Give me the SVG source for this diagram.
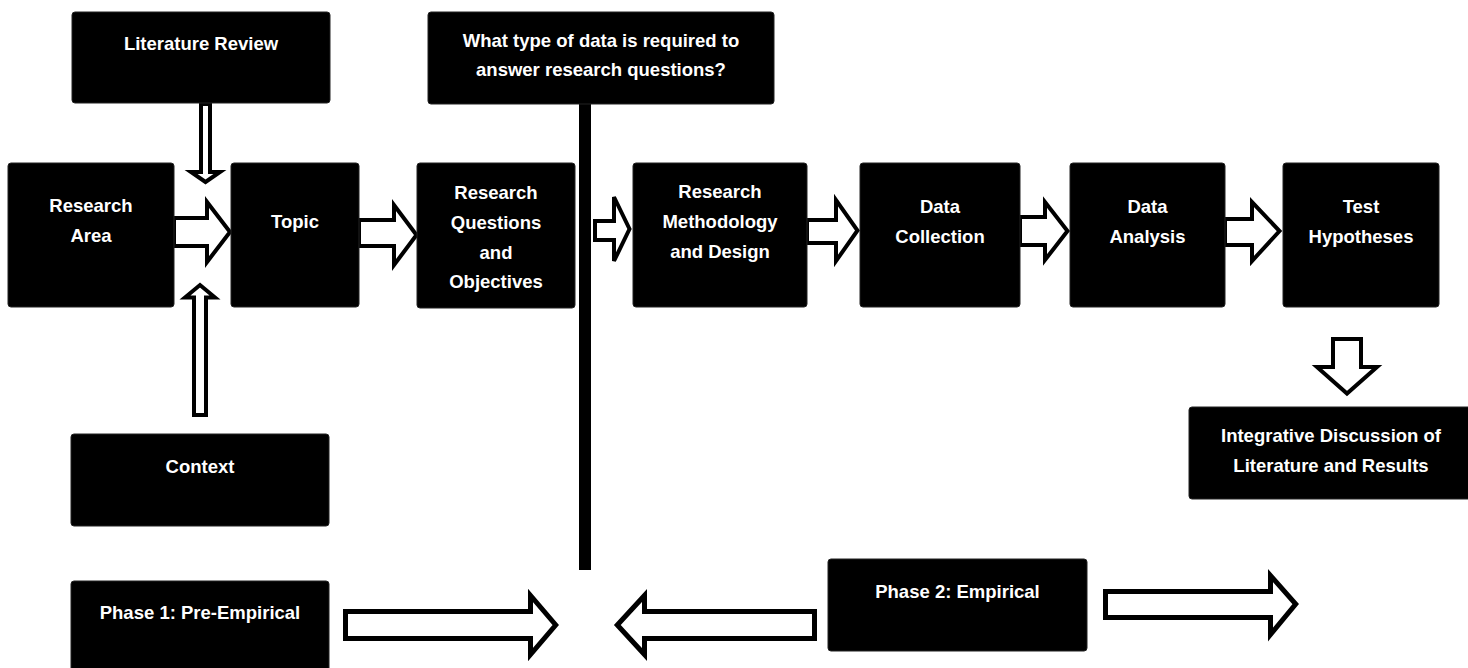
<svg xmlns="http://www.w3.org/2000/svg" width="1468" height="668" viewBox="0 0 1468 668">
<style>
.box{fill:#000;stroke:#222;stroke-width:1}
.t{fill:#fff;font-family:"Liberation Sans",Arial,sans-serif;font-weight:bold;font-size:18.5px;text-anchor:middle}
.ar{fill:#fff;stroke:#000;stroke-width:4;stroke-linejoin:miter}
.arb{fill:#fff;stroke:#000;stroke-width:5;stroke-linejoin:miter}
</style>
<rect width="1468" height="668" fill="#fff"/>
<g id="connectors">
<rect x="579" y="104" width="12" height="466" fill="#000"/>
<polygon class="ar" points="201,104 201,172 191,172 205.5,182 220,172 210,172 210,104"/>
<polygon class="ar" points="194,415 194,297.5 185,297.5 200,285 215,297.5 206,297.5 206,415"/>
<polygon class="ar" points="174,218 207,218 207,202 230,232 207,262 207,246 174,246"/>
<polygon class="ar" points="359,220 394,220 394,205 416.5,235 394,265 394,246 359,246"/>
<polygon class="ar" points="595,221 614,221 614,197 629.5,229 614,261 614,240 595,240"/>
<polygon class="ar" points="807,220 836,220 836,200 857.5,230.5 836,261 836,243 807,243"/>
<polygon class="ar" points="1020,217 1045,217 1045,202 1067.5,231 1045,260 1045,245 1020,245"/>
<polygon class="ar" points="1225,219 1252,219 1252,202 1279.5,231 1252,261 1252,245 1225,245"/>
<polygon class="ar" points="1333,339 1361,339 1361,367 1377,367 1347,393.5 1317,367 1333,367"/>
<polygon class="arb" points="345.5,611.5 530.5,611.5 530.5,595.5 555.7,625 530.5,654.5 530.5,638.5 345.5,638.5"/>
<polygon class="arb" points="814.5,611.5 644.5,611.5 644.5,595.5 617.3,625 644.5,654.5 644.5,638.5 814.5,638.5"/>
<polygon class="arb" points="1105.5,591.5 1270.5,591.5 1270.5,575.5 1295.7,604 1270.5,634.5 1270.5,617.5 1105.5,617.5"/>
</g>
<g id="literature-review"><rect class="box" x="72" y="12" width="258" height="91" rx="3"/><text class="t" x="201" y="50">Literature Review</text></g>
<g id="data-type"><rect class="box" x="428" y="12" width="346" height="92" rx="3"/><text class="t" x="601" y="47">What type of data is required to</text><text class="t" x="601" y="76">answer research questions?</text></g>
<g id="research-area"><rect class="box" x="8" y="163" width="166" height="144" rx="3"/><text class="t" x="91" y="212">Research</text><text class="t" x="91" y="242">Area</text></g>
<g id="topic"><rect class="box" x="231" y="163" width="128" height="144" rx="3"/><text class="t" x="295" y="228">Topic</text></g>
<g id="research-questions"><rect class="box" x="417" y="163" width="158" height="145" rx="3"/><text class="t" x="496" y="199">Research</text><text class="t" x="496" y="229">Questions</text><text class="t" x="496" y="259">and</text><text class="t" x="496" y="288">Objectives</text></g>
<g id="methodology"><rect class="box" x="633" y="163" width="174" height="144" rx="3"/><text class="t" x="720" y="198">Research</text><text class="t" x="720" y="228">Methodology</text><text class="t" x="720" y="258">and Design</text></g>
<g id="data-collection"><rect class="box" x="860" y="163" width="160" height="144" rx="3"/><text class="t" x="940" y="213">Data</text><text class="t" x="940" y="243">Collection</text></g>
<g id="data-analysis"><rect class="box" x="1070" y="163" width="155" height="144" rx="3"/><text class="t" x="1147.5" y="213">Data</text><text class="t" x="1147.5" y="243">Analysis</text></g>
<g id="test-hypotheses"><rect class="box" x="1283" y="163" width="156" height="144" rx="3"/><text class="t" x="1361" y="213">Test</text><text class="t" x="1361" y="243">Hypotheses</text></g>
<g id="integrative"><rect class="box" x="1189" y="407" width="290" height="92" rx="3"/><text class="t" x="1331" y="442">Integrative Discussion of</text><text class="t" x="1331" y="472">Literature and Results</text></g>
<g id="context"><rect class="box" x="71" y="434" width="258" height="92" rx="3"/><text class="t" x="200" y="473">Context</text></g>
<g id="phase1"><rect class="box" x="71" y="581" width="258" height="95" rx="3"/><text class="t" x="200" y="619">Phase 1: Pre-Empirical</text></g>
<g id="phase2"><rect class="box" x="828" y="559" width="259" height="92" rx="3"/><text class="t" x="957.5" y="598">Phase 2: Empirical</text></g>
</svg>
